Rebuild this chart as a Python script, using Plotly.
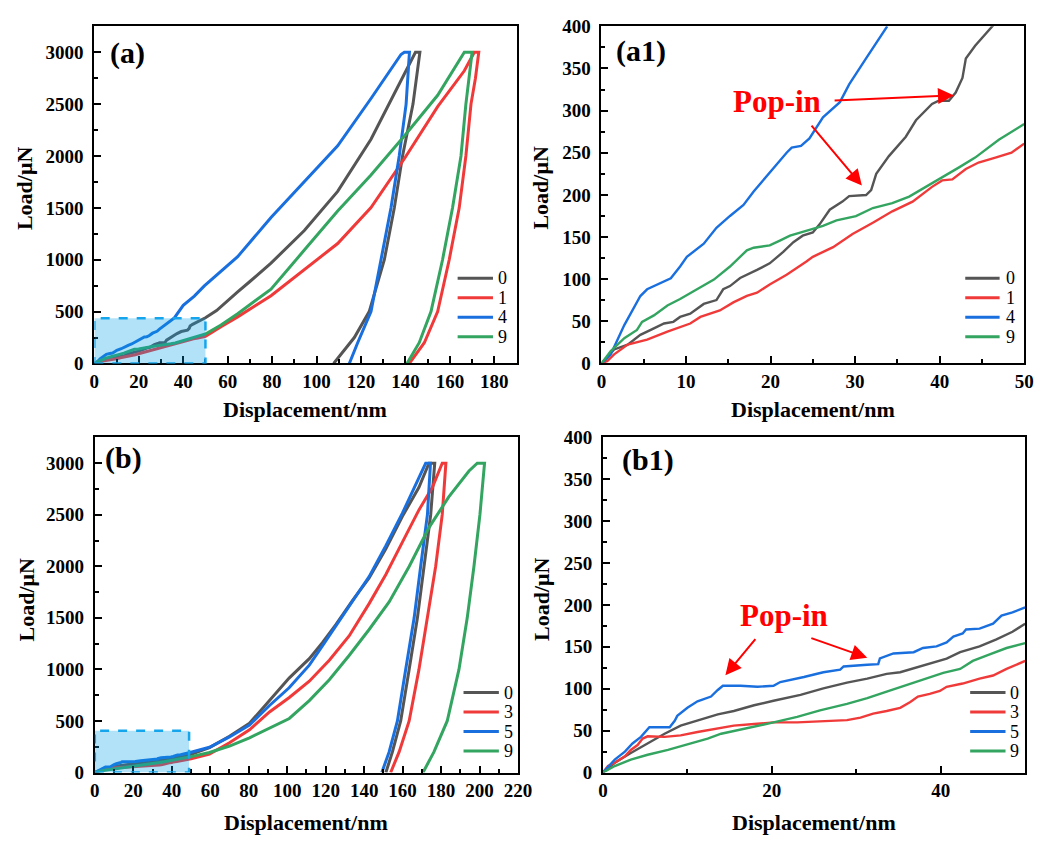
import plotly.graph_objects as go

W, H = 1047, 843
FONT = "Liberation Serif, Times New Roman, serif"

COL = {"0": "#555555", "1": "#f03a3a", "3": "#f03a3a", "4": "#1a6fdf", "5": "#1a6fdf", "9": "#33a560"}

# ---------------- Sample set (a): loading up to 50 nm ----------------
A0_X = [0, 1.5, 3.1, 4.6, 6.2, 7.4, 8.5, 9.3, 10.5, 12.1, 13.6, 14.4, 15.2, 16.4, 18.4, 19.9, 21.5, 22.7,
        23.8, 25.0, 25.8, 27.0, 28.5, 29.3, 31.3, 31.9, 32.5, 34.0, 36.0, 37.2, 39.1, 39.9, 41.1, 41.9,
        42.7, 43.1, 44.2, 46.2, 48.0, 50.0]
A0_Y = [0, 16.6, 22.4, 34, 41.7, 47.4, 49.4, 55.2, 59, 70.6, 75.2, 88, 91.8, 101.4, 111, 118.8, 132.3, 143.9,
        151.6, 155.4, 165, 182.4, 192, 198.6, 199.8, 205.6, 224.9, 246, 269, 288.5, 307.8, 311.7, 311.7, 321.3,
        338.7, 361.8, 377, 400, 420, 440]
A1_X = [0, 0.7, 1.5, 3.1, 5.4, 7.8, 10.5, 11.7, 14.0, 15.6, 17.2, 18.4, 19.9, 21.9, 24.2, 25.0, 27.4, 29.7,
        32.1, 34.4, 36.8, 39.1, 40.3, 41.5, 43.1, 44.6, 46.6, 48.5, 50.0]
A1_Y = [0, 3, 10.8, 22.4, 28.2, 37.8, 47.4, 55.2, 62.9, 72.5, 80.2, 84, 93.7, 105.3, 120.7, 126.5, 138, 153.5,
        167, 180.5, 192, 209.5, 217.2, 218.3, 230.7, 238.4, 244.2, 250, 260.8]
A4_X = [0, 1.1, 2.7, 4.6, 5.4, 7.0, 8.2, 9.3, 10.1, 12.1, 13.6, 15.2, 16.8, 18.0, 19.9, 21.9, 22.5, 23.6,
        24.6, 26.2, 28.2, 29.3, 31.3, 33.8]
A4_Y = [0, 10.8, 45.5, 80, 88, 95.7, 101, 115, 126.5, 142, 161, 175, 188, 204, 227, 250, 256, 258,
        267, 292, 310, 331, 362, 400]
A9_X = [0, 1.1, 2.7, 4.2, 4.8, 6.2, 7.8, 9.3, 11.3, 13.3, 15.2, 17.2, 18.0, 19.9, 21.1, 22.3, 24.2, 26.2,
        27.8, 30.1, 32.1, 34.4, 36.4, 38.4, 40.7, 42.3, 44.2, 47.0, 50.0]
A9_Y = [0, 14.7, 30, 39.7, 49.4, 57, 68.7, 76.4, 88, 99.5, 115, 134.2, 137.3, 140, 145.8, 151.6, 157.4, 163.2,
        169.7, 174.7, 184.4, 190.2, 197.9, 209.5, 223, 232.6, 244.2, 265.4, 284]

# ---------------- Sample set (a): rest of loading, hold and unloading ----------------
A0_TX = [55, 60, 64.5, 70, 79.5, 94.5, 109.5, 124.5, 132, 139.5, 144.5, 146.5, 143.4, 138.7, 135, 130.5,
         123.7, 117, 111, 107.7]
A0_TY = [510, 600, 690, 790, 967, 1282, 1659, 2161, 2475, 2790, 3000, 3000, 2500, 2000, 1500, 1000,
         500, 250, 88, 0]
A1_TX = [57, 64.5, 79.5, 94.5, 109.5, 124.5, 139.5, 154.5, 166.5, 171, 173, 171.5, 169.5, 167.2, 164.2,
         159.7, 154.5, 148.5, 141.75]
A1_TY = [355, 449, 653, 905, 1156, 1502, 1973, 2475, 2821, 3000, 3000, 2750, 2500, 2000, 1500,
         1000, 500, 200, 0]
A4_TX = [36, 40, 45, 49.5, 55, 64.5, 79.5, 94.5, 109.5, 124.5, 138, 139.5, 141.8, 140.3, 137.2, 133.5,
         129, 124.5, 118.5, 114.75]
A4_TY = [440, 560, 650, 748, 850, 1030, 1407, 1753, 2098, 2554, 2978, 3000, 3000, 2500, 2000, 1500,
         1000, 500, 200, 0]
A9_TX = [57, 64.5, 79.5, 94.5, 109.5, 124.5, 139.5, 154.5, 166.5, 170, 168.5, 167.2, 165, 161.2, 156.7,
         151.5, 146.2, 140.7]
A9_TY = [370, 480, 716, 1093, 1470, 1816, 2193, 2585, 3000, 3000, 2750, 2500, 2000, 1500, 1000,
         500, 200, 0]

# ---------------- Sample set (b): loading up to 50 nm ----------------
B0_X = [0, 1.4, 3.3, 5.3, 7.3, 9.2, 11.6, 13.6, 15.5, 17.9, 20.2, 23.4, 26.1, 28.9, 31.3, 33.6, 35.2, 37.5,
        39.1, 40.7, 42.3, 44.6, 46.6, 48.5, 50.0]
B0_Y = [0, 11.6, 23.2, 34.7, 46.3, 56, 63.7, 69.5, 73.4, 80.3, 85.7, 92.7, 100.4, 107.3, 112, 117.8, 119.7,
        126.6, 130.5, 135.9, 143.6, 150.6, 159, 168, 177.6]
B3_X = [0, 0.6, 1.4, 2.6, 3.3, 4.1, 4.7, 5.3, 7.3, 9.2, 11.2, 13.2, 15.5, 17.9, 20.2, 23.0, 26.1, 28.9,
        30.5, 32.0, 33.6, 35.2, 36.4, 37.3, 38.7, 39.9, 40.7, 42.6, 44.6, 46.2, 47.8, 50.0]
B3_Y = [0, 7.7, 11.6, 19.3, 27, 32.8, 40.5, 43.2, 42.5, 44.4, 48.3, 52.1, 56, 57.9, 59.8, 59.8, 61, 62.5,
        65.6, 70.3, 73.4, 77.2, 84.2, 90.7, 93.8, 97.3, 102.3, 106.2, 112, 115.8, 123.6, 133.2]
B5_X = [0, 1.4, 2.6, 3.5, 4.5, 5.5, 7.9, 8.5, 8.8, 10.0, 11.2, 12.8, 13.6, 14.2, 16.3, 18.3, 20.2, 21.0,
        23.8, 26.1, 28.1, 28.5, 31.3, 32.6, 32.8, 34.4, 36.8, 37.9, 39.5, 40.7, 41.5, 42.6, 43.0, 44.6,
        46.2, 47.2, 48.5, 50.0]
B5_Y = [0, 15.4, 25, 34.7, 42.5, 54, 54, 61.8, 67.6, 77.2, 85, 90.7, 98.5, 103.5, 103.5, 102.3, 103.5, 108,
        114, 119.7, 122.8, 126.6, 128.6, 129.3, 136.3, 142.1, 143.6, 148.6, 150.6, 155.2, 162.2, 166, 170.7,
        171.8, 177.6, 187.3, 191.1, 197]
B9_X = [0, 1.4, 3.3, 5.3, 7.7, 10.0, 12.4, 14.0, 15.5, 17.9, 20.2, 23.0, 25.7, 28.9, 31.3, 33.6, 36.0,
        38.3, 40.3, 42.3, 43.8, 45.8, 47.8, 50.0]
B9_Y = [0, 7.7, 15.4, 21.2, 27, 33.6, 40.5, 46.3, 49.4, 54.8, 59.8, 66.4, 74.1, 81.9, 88.8, 96.5, 104.2,
        112, 118.9, 123.6, 133.2, 140.9, 148.6, 154.4]

# ---------------- Sample set (b): rest of loading, hold and unloading ----------------
B0_TX = [59.6, 70, 80.4, 90.8, 101, 111.5, 118.4, 125.3, 134, 142.6, 151.3, 159.9, 168.5, 173.7, 176.7,
         174.6, 171.1, 167.7, 163.4, 159, 154.7, 151.3]
B0_TY = [241, 351, 477, 697, 916, 1104, 1261, 1434, 1669, 1888, 2170, 2484, 2766, 3000, 3000,
         2500, 2000, 1500, 1000, 500, 200, 0]
B3_TX = [59.6, 70, 80.4, 90.8, 101.1, 111.5, 121.9, 132.2, 142.6, 151.3, 159.9, 168.5, 175.5, 180.6, 182.5,
         180.6, 177.2, 172.9, 168.5, 163.4, 158.2, 153.8]
B3_TY = [179, 289, 414, 587, 728, 885, 1089, 1324, 1638, 1920, 2234, 2547, 2766, 3000, 3000,
         2500, 2000, 1500, 1000, 500, 200, 0]
B5_TX = [59.6, 70, 80.4, 90.8, 101, 111.5, 118.4, 125.3, 134, 142.6, 151.3, 159.9, 168.5, 172, 174.5,
         172.9, 169.4, 166, 161.6, 157.3, 153, 149.2]
B5_TY = [245, 345, 460, 650, 822, 1041, 1230, 1418, 1660, 1900, 2200, 2515, 2860, 3000, 3000,
         2500, 2000, 1500, 1000, 500, 200, 0]
B9_TX = [59.6, 70, 80.4, 90.8, 101.1, 111.5, 121.9, 132.2, 142.6, 153, 163.4, 173.7, 184, 194.5, 198.8,
         202.6, 200.2, 197.1, 193.6, 189.3, 183.2, 176.3, 170.6]
B9_TY = [194, 257, 336, 430, 524, 697, 900, 1135, 1387, 1654, 1998, 2375, 2673, 2924, 3000,
         3000, 2500, 2000, 1500, 1000, 500, 200, 0]

SET_A = [("0", A0_X, A0_Y, A0_TX, A0_TY), ("1", A1_X, A1_Y, A1_TX, A1_TY),
         ("4", A4_X, A4_Y, A4_TX, A4_TY), ("9", A9_X, A9_Y, A9_TX, A9_TY)]
SET_B = [("0", B0_X, B0_Y, B0_TX, B0_TY), ("3", B3_X, B3_Y, B3_TX, B3_TY),
         ("5", B5_X, B5_Y, B5_TX, B5_TY), ("9", B9_X, B9_Y, B9_TX, B9_TY)]


def fx(px):
    return px / W


def fy(py):
    return 1 - py / H


fig = go.Figure()

# (sample set, full curve?, xaxis, yaxis, legend anchor: line x0, line x1, text x, first row y)
panels = [
    (SET_A, True, "x", "y", (461, 497, 500, 275)),
    (SET_A, False, "x2", "y2", (978, 1013, 1017, 275)),
    (SET_B, True, "x3", "y3", (467, 503, 506, 700)),
    (SET_B, False, "x4", "y4", (983, 1019, 1022, 700)),
]
shapes = []
ann = []
legend_font = dict(family=FONT, size=18, color="black")
for data, full, xa, ya, (lx0, lx1, tx_, ty0) in panels:
    for i, (name, x, y, tx, ty) in enumerate(data):
        xs = x + tx if full else x
        ys = y + ty if full else y
        fig.add_trace(go.Scatter(
            x=xs, y=ys, mode="lines", name=name, xaxis=xa, yaxis=ya, showlegend=False,
            line=dict(color=COL[name], width=3 if full else 2.4),
        ))
        # legend row: sample line plus label
        yy = ty0 + 20 * i
        shapes.append(dict(type="line", xref="paper", yref="paper", x0=fx(lx0), x1=fx(lx1),
                           y0=fy(yy), y1=fy(yy), line=dict(color=COL[name], width=3)))
        ann.append(dict(text=name, x=fx(tx_), y=fy(yy), xref="paper", yref="paper", showarrow=False,
                        xanchor="left", yanchor="middle", font=legend_font))

tickfont = dict(family=FONT, size=19, color="black", weight="bold")


def ax(domain, rng, dtick, minor, anchor, standoff):
    return dict(domain=domain, range=rng, anchor=anchor, dtick=dtick, tick0=0,
                showline=True, linecolor="black", linewidth=2, mirror=True,
                ticks="inside", ticklen=7, tickwidth=2, tickcolor="black", ticklabelstandoff=standoff,
                minor=dict(ticks="inside", ticklen=4, tickwidth=1.5, tickcolor="black", dtick=minor, tick0=0),
                showgrid=False, zeroline=False, tickfont=tickfont)


DOM_A = [fx(91), fx(521)]
DOM_A1 = [fx(607.5), fx(1038)]
DOM_B = [fx(91.5), fx(522.5)]
DOM_B1 = [fx(609), fx(1039)]
TOP_ROW = [fy(362.5), fy(16.7)]
BOT_ROW = [fy(782), fy(438.3)]

fig.update_layout(
    width=W, height=H, margin=dict(l=0, r=0, t=0, b=0),
    paper_bgcolor="white", plot_bgcolor="white",
    font=dict(family=FONT, color="black"),
    showlegend=False,
    xaxis=ax(DOM_A, [0, 190], 20, 10, "y", 0),
    yaxis=ax(TOP_ROW, [0, 3250], 500, 250, "x", 5),
    xaxis2=ax(DOM_A1, [0, 50], 10, 5, "y2", 0),
    yaxis2=ax(TOP_ROW, [0, 400], 50, 25, "x2", 5),
    xaxis3=ax(DOM_B, [0, 220], 20, 10, "y3", 0),
    yaxis3=ax(BOT_ROW, [0, 3250], 500, 250, "x3", 5),
    xaxis4=ax(DOM_B1, [0, 50], 20, 10, "y4", 0),
    yaxis4=ax(BOT_ROW, [0, 400], 50, 25, "x4", 5),
)

# Highlighted low-load region magnified in the right-hand panels
rect_style = dict(type="rect", fillcolor="rgba(0,160,233,0.3)",
                  line=dict(color="#14a5ec", width=2.5, dash="dash"), layer="above")
shapes.append(dict(rect_style, xref="x", yref="y", x0=0, x1=50, y0=0, y1=435))
shapes.append(dict(rect_style, xref="x3", yref="y3", x0=0, x1=49, y0=0, y1=405))

title_font = dict(family=FONT, size=22, color="black", weight="bold")
for dom, cy in [(DOM_A, 410), (DOM_A1, 410), (DOM_B, 833), (DOM_B1, 833)]:
    ann.append(dict(text="Displacement/nm", x=(dom[0] + dom[1]) / 2, y=fy(cy), xref="paper", yref="paper",
                    showarrow=False, font=title_font, xanchor="center", yanchor="middle"))
for cx, cy in [(20, 183), (545, 183), (22, 605), (547, 605)]:
    ann.append(dict(text="Load/μN", x=fx(cx), y=fy(cy), xref="paper", yref="paper", textangle=-90,
                    showarrow=False, font=title_font, xanchor="center", yanchor="middle"))
label_font = dict(family=FONT, size=30, color="black", weight="bold")
for txt, lx, ly in [("(a)", 105, 44), ("(a1)", 620, 42), ("(b)", 100, 459), ("(b1)", 626, 461)]:
    ann.append(dict(text=txt, x=fx(lx), y=fy(ly), xref="paper", yref="paper", showarrow=False,
                    font=label_font, xanchor="left", yanchor="middle"))

pop_font = dict(family=FONT, size=31, color="#ff0000", weight="bold")
ann.append(dict(text="Pop-in", x=20.8, y=311, xref="x2", yref="y2", showarrow=False, font=pop_font))
ann.append(dict(text="Pop-in", x=21.5, y=187, xref="x4", yref="y4", showarrow=False, font=pop_font))

arrows = [
    ("x2", "y2", 27.4, 312, 41.7, 318),
    ("x2", "y2", 24.7, 284, 30.8, 211),
    ("x4", "y4", 18.2, 161, 14.5, 116),
    ("x4", "y4", 24.5, 161, 31.3, 137),
]
for xr, yr, x0, y0, x1, y1 in arrows:
    ann.append(dict(x=x1, y=y1, ax=x0, ay=y0, xref=xr, yref=yr, axref=xr, ayref=yr, text="",
                    showarrow=True, arrowhead=2, arrowsize=1.6, arrowwidth=2, arrowcolor="#ff0000"))

fig.update_layout(annotations=ann, shapes=shapes)

fig.write_html("out.html")
